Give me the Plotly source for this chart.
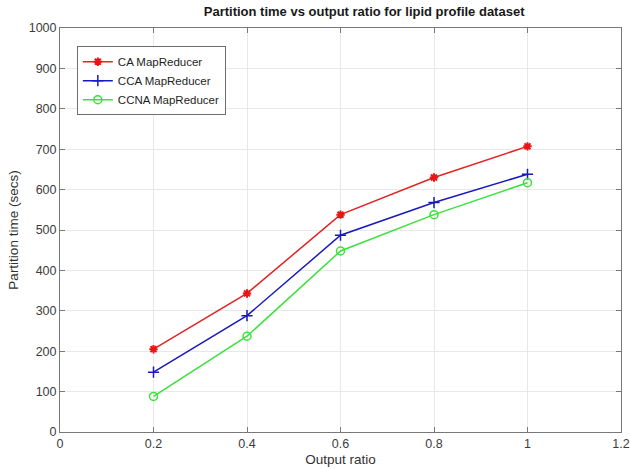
import plotly.graph_objects as go

x_ratio = [0.2, 0.4, 0.6, 0.8, 1.0]
ca_time = [205, 343, 538, 630, 707]
cca_time = [148, 288, 487, 568, 638]
ccna_time = [88, 237, 448, 538, 617]
x_ticks = [0, 0.2, 0.4, 0.6, 0.8, 1, 1.2]
x_tick_text = ["0", "0.2", "0.4", "0.6", "0.8", "1", "1.2"]
y_ticks = list(range(0, 1001, 100))

font_family = "Liberation Sans, Arial, sans-serif"

fig = go.Figure()
fig.add_trace(go.Scatter(x=x_ratio, y=ca_time, mode="lines+markers", name="CA MapReducer",
                         line=dict(color="rgb(225,35,35)", width=1.5),
                         marker=dict(symbol="asterisk-open", size=7, color="rgb(235,20,20)",
                                     line=dict(width=2, color="rgb(235,20,20)"))))
fig.add_trace(go.Scatter(x=x_ratio, y=cca_time, mode="lines+markers", name="CCA MapReducer",
                         line=dict(color="rgb(25,25,190)", width=1.5),
                         marker=dict(symbol="cross-thin-open", size=8, color="rgb(25,25,190)",
                                     line=dict(width=1.5, color="rgb(25,25,190)"))))
fig.add_trace(go.Scatter(x=x_ratio, y=ccna_time, mode="lines+markers", name="CCNA MapReducer",
                         line=dict(color="rgb(60,225,60)", width=1.5),
                         marker=dict(symbol="circle-open", size=8, color="rgb(60,225,60)",
                                     line=dict(width=1.5, color="rgb(60,225,60)"))))

axis_common = dict(showgrid=True, gridcolor="rgb(232,232,232)", gridwidth=1,
                   showline=True, linecolor="rgb(120,120,120)", linewidth=1, mirror="ticks",
                   ticks="inside", ticklen=5, tickcolor="rgb(120,120,120)",
                   zeroline=False, automargin=False, ticklabeloverflow="allow",
                   tickfont=dict(size=12.5, color="rgb(60,60,60)", family=font_family))

fig.update_layout(
    width=630, height=469,
    margin=dict(l=60, r=9, t=28, b=37, autoexpand=False),
    paper_bgcolor="white", plot_bgcolor="white",
    font=dict(family=font_family, color="rgb(40,40,40)"),
    title=dict(text="<b>Partition time vs output ratio for lipid profile dataset</b>",
               x=0.578, xanchor="center", y=0.975, yanchor="middle",
               font=dict(size=13, color="rgb(25,25,25)"), automargin=False),
    xaxis=dict(range=[0, 1.2], tickvals=x_ticks, ticktext=x_tick_text,
               title=dict(text="Output ratio", font=dict(size=13.5, color="rgb(50,50,50)"), standoff=4),
               **axis_common),
    yaxis=dict(range=[0, 1000], tickvals=y_ticks,
               title=dict(text="Partition time (secs)", font=dict(size=13.5, color="rgb(50,50,50)"), standoff=6),
               **axis_common),
    legend=dict(x=0.03, y=0.955, xanchor="left", yanchor="top",
                bgcolor="white", bordercolor="rgb(110,110,110)", borderwidth=1,
                font=dict(size=11.5, color="rgb(30,30,30)"), tracegroupgap=0,
                itemwidth=30),
    showlegend=True,
)

fig.write_html("out.html", config={"displayModeBar": False},
               post_script="document.body.style.margin='0';document.body.style.overflow='hidden';")
